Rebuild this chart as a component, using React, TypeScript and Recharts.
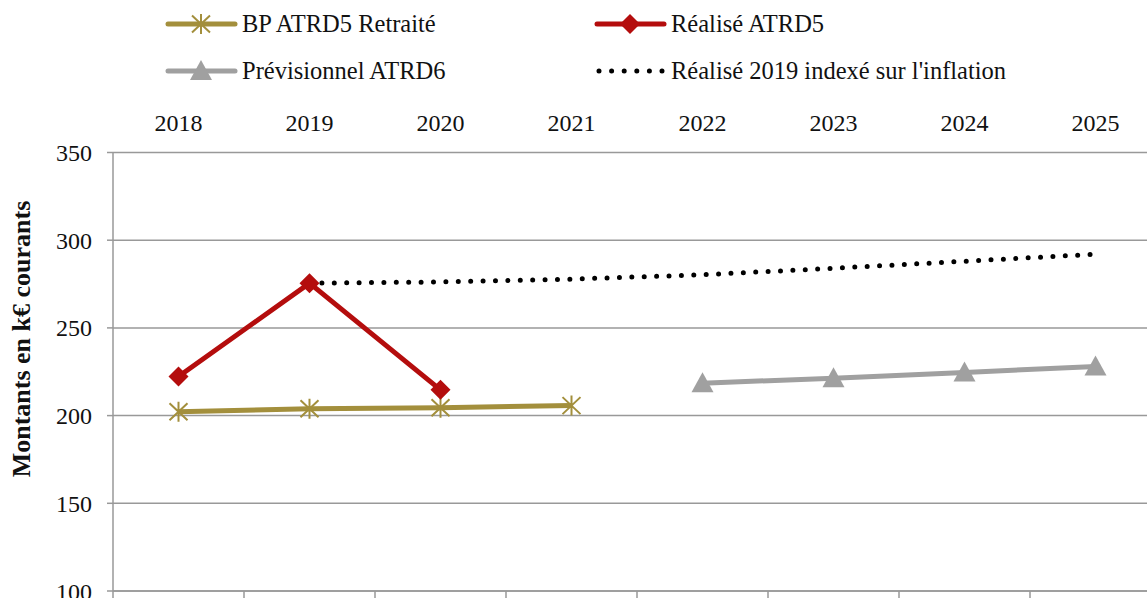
import React from 'react';
import { LineChart, Line, XAxis, YAxis, CartesianGrid } from 'recharts';

const years = ['2018', '2019', '2020', '2021', '2022', '2023', '2024', '2025'];
const bpAtrd5Retraite = [202.2, 203.9, 204.5, 205.7, null, null, null, null];
const realiseAtrd5 = [222.3, 275.5, 214.7, null, null, null, null, null];
const realise2019Indexe = [null, 275.5, 276.2, 277.8, 280.3, 284.0, 288.0, 292.0];
const previsionnelAtrd6 = [null, null, null, null, 218.5, 221.3, 224.6, 228.0];
const yTicks = [100, 150, 200, 250, 300, 350];

const GOLD = '#A38F3C';
const RED = '#B40D0D';
const GREY = '#A0A0A0';
const GRID = '#999999';
const FONT = "Liberation Serif, serif";

const data = years.map((year, i) => ({
  x: i + 0.5,
  year,
  bp: bpAtrd5Retraite[i],
  realise: realiseAtrd5[i],
  indexe: realise2019Indexe[i],
  prev: previsionnelAtrd6[i],
}));

const starPath = (cx: number, cy: number, r: number) =>
  `M${cx},${cy - r}L${cx},${cy + r}M${cx - r * 0.9},${cy - r * 0.85}L${cx + r * 0.9},${cy + r * 0.85}M${cx - r * 0.9},${cy + r * 0.85}L${cx + r * 0.9},${cy - r * 0.85}`;

const StarDot = (props: any) => {
  const { cx, cy, value, index } = props;
  if (cx == null || cy == null || value == null) return <g key={`s${index}`} />;
  return <path key={`s${index}`} d={starPath(cx, cy, 10)} stroke={GOLD} strokeWidth={2} fill="none" />;
};

const DiamondDot = (props: any) => {
  const { cx, cy, value, index } = props;
  if (cx == null || cy == null || value == null) return <g key={`d${index}`} />;
  const r = 10;
  return <path key={`d${index}`} d={`M${cx},${cy - r}L${cx + r},${cy}L${cx},${cy + r}L${cx - r},${cy}Z`} fill={RED} />;
};

const TriangleDot = (props: any) => {
  const { cx, cy, value, index } = props;
  if (cx == null || cy == null || value == null) return <g key={`t${index}`} />;
  return <path key={`t${index}`} d={`M${cx},${cy - 11}L${cx + 11},${cy + 9}L${cx - 11},${cy + 9}Z`} fill={GREY} />;
};

const LegendItem = ({ left, top, label, kind }: { left: number; top: number; label: string; kind: string }) => (
  <div style={{ position: 'absolute', left, top: top - 16, height: 32, display: 'flex', alignItems: 'center', whiteSpace: 'nowrap' }}>
    <svg width={77} height={32} style={{ display: 'block' }}>
      {kind === 'star' && (
        <>
          <line x1={3} y1={16} x2={70} y2={16} stroke={GOLD} strokeWidth={5} strokeLinecap="round" />
          <path d={starPath(36, 16, 10)} stroke={GOLD} strokeWidth={2} fill="none" />
        </>
      )}
      {kind === 'diamond' && (
        <>
          <line x1={3} y1={16} x2={70} y2={16} stroke={RED} strokeWidth={5} strokeLinecap="round" />
          <path d="M36,6L46,16L36,26L26,16Z" fill={RED} />
        </>
      )}
      {kind === 'triangle' && (
        <>
          <line x1={3} y1={16} x2={70} y2={16} stroke={GREY} strokeWidth={5} strokeLinecap="round" />
          <path d="M36,5L47,25L25,25Z" fill={GREY} />
        </>
      )}
      {kind === 'dots' && (
        <line x1={5} y1={16} x2={70} y2={16} stroke="#000" strokeWidth={5} strokeLinecap="round" strokeDasharray="0 12.6" />
      )}
    </svg>
    <span style={{ fontFamily: FONT, fontSize: 24.5, color: '#111' }}>{label}</span>
  </div>
);

export default function App() {
  return (
    <div style={{ position: 'fixed', left: 0, top: 0, width: 1147, height: 598, overflow: 'hidden', background: '#fff' }}>
      <LegendItem left={165} top={24} label="BP ATRD5 Retraité" kind="star" />
      <LegendItem left={594} top={24} label="Réalisé ATRD5" kind="diamond" />
      <LegendItem left={165} top={71} label="Prévisionnel ATRD6" kind="triangle" />
      <LegendItem left={594} top={71} label="Réalisé 2019 indexé sur l'inflation" kind="dots" />
      <div style={{ position: 'absolute', left: 0, top: 0 }}>
        <LineChart width={1161} height={640} data={data} margin={{ top: 0, right: 0, bottom: 0, left: 0 }} style={{ fontFamily: FONT }}>
          <CartesianGrid vertical={false} stroke={GRID} strokeWidth={1.5} xAxisId="b" />
          <XAxis
            xAxisId="t"
            orientation="top"
            type="number"
            dataKey="x"
            domain={[0, 8]}
            ticks={data.map(d => d.x)}
            tickFormatter={(v: number) => years[Math.floor(v)]}
            height={152.5}
            axisLine={false}
            tickLine={false}
            tickSize={0}
            tickMargin={22}
            tick={{ fill: '#111', fontSize: 24, fontFamily: FONT }}
          />
          <XAxis
            xAxisId="b"
            orientation="bottom"
            type="number"
            dataKey="x"
            domain={[0, 8]}
            ticks={[0, 1, 2, 3, 4, 5, 6, 7, 8]}
            tickFormatter={() => ''}
            height={49}
            axisLine={{ stroke: GRID, strokeWidth: 1.5 }}
            tickLine={{ stroke: GRID, strokeWidth: 1.5 }}
            tickSize={9}
          />
          <YAxis
            domain={[100, 350]}
            ticks={yTicks}
            width={113}
            axisLine={{ stroke: GRID, strokeWidth: 1.5 }}
            tickLine={{ stroke: GRID, strokeWidth: 1.5 }}
            tickSize={6}
            tickMargin={15}
            tick={{ fill: '#111', fontSize: 24, fontFamily: FONT }}
            label={{
              content: () => (
                <text
                  x={30}
                  y={339}
                  transform="rotate(-90 30 339)"
                  textAnchor="middle"
                  fontFamily={FONT}
                  fontSize={26}
                  fontWeight="bold"
                  fill="#111"
                >
                  Montants en k€ courants
                </text>
              ),
            }}
          />
          <Line xAxisId="b" dataKey="bp" stroke={GOLD} strokeWidth={5} dot={StarDot} activeDot={false} isAnimationActive={false} />
          <Line xAxisId="b" dataKey="realise" stroke={RED} strokeWidth={5} dot={DiamondDot} activeDot={false} isAnimationActive={false} />
          <Line xAxisId="b" dataKey="prev" stroke={GREY} strokeWidth={5} dot={TriangleDot} activeDot={false} isAnimationActive={false} />
          <Line
            xAxisId="b"
            dataKey="indexe"
            stroke="#000"
            strokeWidth={5}
            strokeLinecap="round"
            strokeDasharray="0 12.4"
            dot={false}
            activeDot={false}
            isAnimationActive={false}
          />
        </LineChart>
      </div>
    </div>
  );
}
